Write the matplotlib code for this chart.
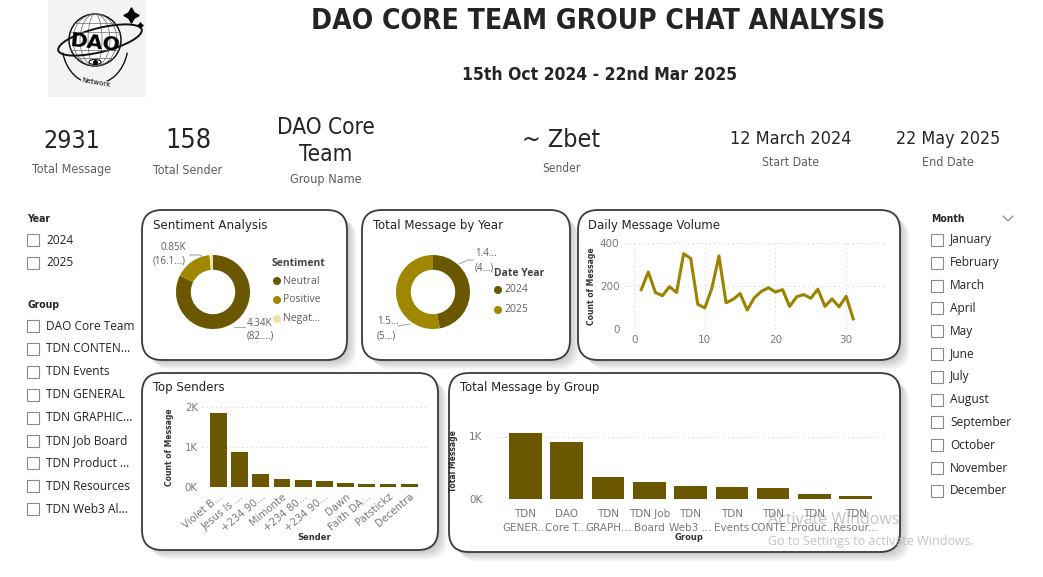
import matplotlib
matplotlib.use("Agg")
import matplotlib.pyplot as plt
from matplotlib import font_manager
from matplotlib.patches import FancyBboxPatch, Rectangle, Ellipse, Circle, Arc

# dashboard values
sentiment_labels = ["Neutral", "Positive", "Negat..."]
sentiment_values = [4340, 850, 80]
year_labels = ["2024", "2025"]
year_values = [1380, 1551]
days = list(range(1, 32))
daily_counts = [183, 265, 170, 155, 197, 170, 350, 328, 115, 98, 190, 340, 122, 138, 165, 88,
                145, 175, 192, 172, 183, 105, 150, 160, 143, 185, 105, 140, 103, 152, 47]
senders = ["Violet B...", "Jesus Is ...", "+234 90...", "Mimonte", "+234 80...", "+234 90...",
           "Dawn", "Faith DA...", "Patstickz", "Decentra"]
sender_counts = [1850, 885, 330, 190, 165, 140, 107, 85, 83, 83]
groups = ["TDN\nGENER...", "DAO\nCore T...", "TDN\nGRAPH...", "TDN Job\nBoard", "TDN\nWeb3 ...",
          "TDN\nEvents", "TDN\nCONTE...", "TDN\nProduc...", "TDN\nResour..."]
group_counts = [1060, 915, 350, 270, 205, 188, 172, 75, 43]
kpi_values = ["2931", "158", "DAO Core\nTeam", "~ Zbet", "12 March 2024", "22 May 2025"]
kpi_labels = ["Total Message", "Total Sender", "Group Name", "Sender", "Start Date", "End Date"]
year_slicer = ["2024", "2025"]
group_slicer = ["DAO Core Team", "TDN CONTEN...", "TDN Events", "TDN GENERAL", "TDN GRAPHIC...",
                "TDN Job Board", "TDN Product ...", "TDN Resources", "TDN Web3 Al..."]
months = ["January", "February", "March", "April", "May", "June", "July", "August",
          "September", "October", "November", "December"]

fl = font_manager.fontManager.ttflist
names = {f.name for f in fl}
if "Liberation Sans Narrow" in names:
    din = dict(family="Liberation Sans Narrow")
elif any(f.name == "DejaVu Sans" and f.stretch == "condensed" for f in fl):
    din = dict(family="DejaVu Sans", fontstretch="condensed")
else:
    din = dict(family="Roboto" if "Roboto" in names else "DejaVu Sans")
ui = "Open Sans" if "Open Sans" in names else "DejaVu Sans"

DARK = "#6b5700"
MID = "#a08700"
LIGHT = "#efe2a6"
LINE = "#9c8200"
TXT = "#252423"
GREY = "#605e5c"
TICK = "#7a7a7a"

W, H = 1043, 577
fig = plt.figure(figsize=(W / 100, H / 100), dpi=100)
bg = fig.add_axes([0, 0, 1, 1])
bg.set_xlim(0, W)
bg.set_ylim(H, 0)
bg.axis("off")
rend = fig.canvas.get_renderer()


def px_axes(x0, y0, x1, y1):
    ax = fig.add_axes([x0 / W, 1 - y1 / H, (x1 - x0) / W, (y1 - y0) / H])
    ax.patch.set_alpha(0)
    return ax


def fit(x, y, s, width, size, **kw):
    # scale the font so the text spans the width seen in the screenshot
    t = bg.text(x, y, s, fontsize=size, **kw)
    w = t.get_window_extent(rend).width
    t.set_fontsize(size * width / w)
    return t


# cards with soft shadow
cards = [(142, 210, 347, 360), (362, 210, 570, 360), (578, 210, 900, 360),
         (142, 373, 438, 550), (449, 373, 900, 552)]
for x0, y0, x1, y1 in cards:
    for k in range(6):
        off = 2 + k * 1.5
        bg.add_patch(FancyBboxPatch((x0 + off, y0 + off), x1 - x0, y1 - y0,
                                    boxstyle="round,pad=0,rounding_size=20",
                                    fc="#000000", ec="none", alpha=0.035))
    bg.add_patch(FancyBboxPatch((x0, y0), x1 - x0, y1 - y0,
                                boxstyle="round,pad=0,rounding_size=20",
                                fc="white", ec="#3a3a3a", lw=1.3))

# logo
bg.add_patch(Rectangle((48, 0), 98, 97, fc="#f3f3f3", ec="none"))
bg.add_patch(Arc((95, 44), 66, 80, theta1=15, theta2=165, ec="#111111", lw=1.0))
bg.add_patch(Circle((95, 40), 26, fc="white", ec="#111111", lw=1.1))
for w in [14, 30, 44]:
    bg.add_patch(Ellipse((95, 40), w, 52, fc="none", ec="#666666", lw=0.5))
for dy in [-17, -8, 10, 18]:
    half = (26 ** 2 - dy ** 2) ** 0.5
    bg.plot([95 - half, 95 + half], [40 + dy, 40 + dy], color="#666666", lw=0.5)
bg.add_patch(Ellipse((100, 40), 86, 24, angle=-14, fc="none", ec="#111111", lw=1.4))
bg.add_patch(Ellipse((95, 62), 12, 5, fc="white", ec="#111111", lw=0.8))
bg.plot([95], [62], marker="o", ms=2.5, color="black")
fit(95, 43, "DAO", 52, 16, fontweight="heavy", color="black", ha="center", va="center",
    rotation=-6, family="DejaVu Sans")
bg.plot([131], [15], marker=(4, 1, 0), ms=11, color="black")
bg.plot([140], [25], marker=(4, 1, 0), ms=4, color="black")
bg.text(96, 83, "Network", fontsize=5, color="black", ha="center", va="center", rotation=-10,
        bbox=dict(fc="#f3f3f3", ec="none", pad=0.5))

# header
fit(598, 21, "DAO CORE TEAM GROUP CHAT ANALYSIS", 575, 24, fontweight="bold",
    color=TXT, ha="center", va="center", **din)
fit(600, 75, "15th Oct 2024 - 22nd Mar 2025", 275, 14, fontweight="bold",
    color=TXT, ha="center", va="center", **din)

# KPI cards
kpi_x = [72, 188, 326, 561, 791, 948]
kpi_vy = [141, 141, 141, 140, 139, 139]
kpi_w = [57, 46, 98, 78, 121, 104]
kpi_ly = [170, 170, 180, 168, 163, 163]
kpi_lw = [79, 69, 72, 38, 57, 52]
for x, vy, vw, ly, lw_, v, lab in zip(kpi_x, kpi_vy, kpi_w, kpi_ly, kpi_lw, kpi_values, kpi_labels):
    fit(x, vy, v, vw, 20, color=TXT, ha="center", va="center", linespacing=1.25, **din)
    fit(x, ly, lab, lw_, 9, color=GREY, ha="center", va="center", **din)

# slicers
def slicer(x, y, title, items, step=22.9):
    bg.text(x, y, title, fontsize=7.5, fontweight="bold", color=TXT, va="center", **din)
    for i, it in enumerate(items):
        yy = y + 21 + i * step
        bg.add_patch(Rectangle((x, yy - 6), 12, 12, fc="white", ec="#8a8a8a", lw=0.8))
        bg.text(x + 19, yy, it, fontsize=8.6, color=TXT, va="center", family=ui)

slicer(27, 219, "Year", year_slicer)
slicer(27, 305, "Group", group_slicer)
slicer(931, 219, "Month", months, step=22.8)
bg.plot([1003, 1008, 1013], [216, 221, 216], color="#777777", lw=0.8)

# card titles
titles = [(153, 225, "Sentiment Analysis", 113), (373, 225, "Total Message by Year", 130),
          (588, 225, "Daily Message Volume", 132), (153, 388, "Top Senders", 72),
          (460, 388, "Total Message by Group", 140)]
for x, y, t, w in titles:
    fit(x, y, t, w, 10, color=TXT, va="center", **din)

# donuts
def donut(cx, cy, r, vals, cols):
    ax = px_axes(cx - r, cy - r, cx + r, cy + r)
    ax.pie(vals, colors=cols, startangle=90, counterclock=False,
           wedgeprops=dict(width=0.4, edgecolor="none"))
    ax.set_xlim(-1, 1)
    ax.set_ylim(-1, 1)
    return ax

donut(213, 292, 37, sentiment_values, [DARK, MID, LIGHT])
donut(433, 292, 37, year_values, [DARK, MID])

lab_kw = dict(fontsize=7, color=GREY, family=ui, va="center")
bg.text(186, 247, f"{sentiment_values[1] / 1000:.2f}K", ha="right", **lab_kw)
bg.text(186, 261, "(16.1...)", ha="right", **lab_kw)
bg.plot([190, 200, 206], [255, 255, 260], color="#aaaaaa", lw=0.8)
bg.text(247, 323, f"{sentiment_values[0] / 1000:.2f}K", ha="left", **lab_kw)
bg.text(247, 336, "(82....)", ha="left", **lab_kw)
bg.plot([234, 245], [327, 327], color="#aaaaaa", lw=0.8)

bg.text(475, 254, "1.4...", ha="left", **lab_kw)
bg.text(475, 268, "(4...)", ha="left", **lab_kw)
bg.plot([459, 468, 473], [264, 260, 260], color="#aaaaaa", lw=0.8)
bg.text(377, 322, "1.5...", ha="left", **lab_kw)
bg.text(377, 336, "(5...)", ha="left", **lab_kw)
bg.plot([398, 410], [326, 324], color="#aaaaaa", lw=0.8)

# donut legends
bg.text(272, 263, "Sentiment", fontsize=7.5, fontweight="bold", color="#444444", va="center", family=ui)
for i, (lab, c) in enumerate(zip(sentiment_labels, [DARK, MID, LIGHT])):
    yy = 281 + i * 19
    bg.add_patch(Circle((277, yy), 4, fc=c, ec="none"))
    bg.text(283, yy, lab, fontsize=7.5, color=GREY, va="center", family=ui)
bg.text(494, 273, "Date Year", fontsize=7.5, fontweight="bold", color="#444444", va="center", family=ui)
for i, (lab, c) in enumerate(zip(year_labels, [DARK, MID])):
    yy = 290 + i * 20
    bg.add_patch(Circle((498, yy), 4, fc=c, ec="none"))
    bg.text(504, yy, lab, fontsize=7.5, color=GREY, va="center", family=ui)

# daily line
ax = px_axes(625, 243, 885, 329)
ax.plot(days, daily_counts, color=LINE, lw=2.2, clip_on=False)
ax.set_xlim(-1.3, 35.5)
ax.set_ylim(0, 400)
ax.set_xticks([0, 10, 20, 30])
ax.set_yticks([0, 200, 400])
ax.grid(True, color="#cfcfcf", ls=(0, (1, 3)), lw=0.8)
for s in ax.spines.values():
    s.set_visible(False)
ax.tick_params(length=0, colors=TICK, labelsize=7.5, pad=4)
ax.set_ylabel("Count of Message", fontsize=5.5, fontweight="bold", color="#333333", labelpad=3)

# top senders
ax = px_axes(202, 407, 427, 487)
ax.bar(range(len(senders)), sender_counts, width=0.79, color=DARK)
ax.set_xlim(-0.77, 9.84)
ax.set_ylim(0, 2000)
ax.set_yticks([0, 1000, 2000])
ax.set_yticklabels(["0K", "1K", "2K"])
ax.set_xticks(range(len(senders)))
ax.set_xticklabels(senders, rotation=40, ha="right", rotation_mode="anchor")
ax.yaxis.grid(True, color="#cfcfcf", ls=(0, (1, 3)), lw=0.8)
ax.set_axisbelow(True)
for s in ax.spines.values():
    s.set_visible(False)
ax.tick_params(length=0, colors=TICK, labelsize=7.3, pad=3)
ax.set_ylabel("Count of Message", fontsize=5.5, fontweight="bold", color="#333333", labelpad=8)
ax.set_xlabel("Sender", fontsize=6, fontweight="bold", color="#333333", labelpad=0)

# total message by group
ax = px_axes(492, 424, 887, 499)
ax.bar(range(len(groups)), group_counts, width=0.79, color=DARK)
ax.set_xlim(-0.81, 8.76)
ax.set_ylim(0, 1200)
ax.set_yticks([0, 1000])
ax.set_yticklabels(["0K", "1K"])
ax.set_xticks(range(len(groups)))
ax.set_xticklabels(groups, linespacing=1.5)
ax.yaxis.grid(True, color="#cfcfcf", ls=(0, (1, 3)), lw=0.8)
ax.set_axisbelow(True)
for s in ax.spines.values():
    s.set_visible(False)
ax.tick_params(length=0, colors=TICK, labelsize=7.5, pad=7)
ax.set_ylabel("Total Message", fontsize=5.5, fontweight="bold", color="#333333", labelpad=8)
ax.set_xlabel("Group", fontsize=6, fontweight="bold", color="#333333", labelpad=0)

# windows watermark
bg.text(768, 520, "Activate Windows", fontsize=11.5, color="#bdbdbd", va="center", family=ui, alpha=0.9)
bg.text(768, 541, "Go to Settings to activate Windows.", fontsize=9, color="#bdbdbd", va="center",
        family=ui, alpha=0.9)

fig.savefig("out.png", dpi=100)
